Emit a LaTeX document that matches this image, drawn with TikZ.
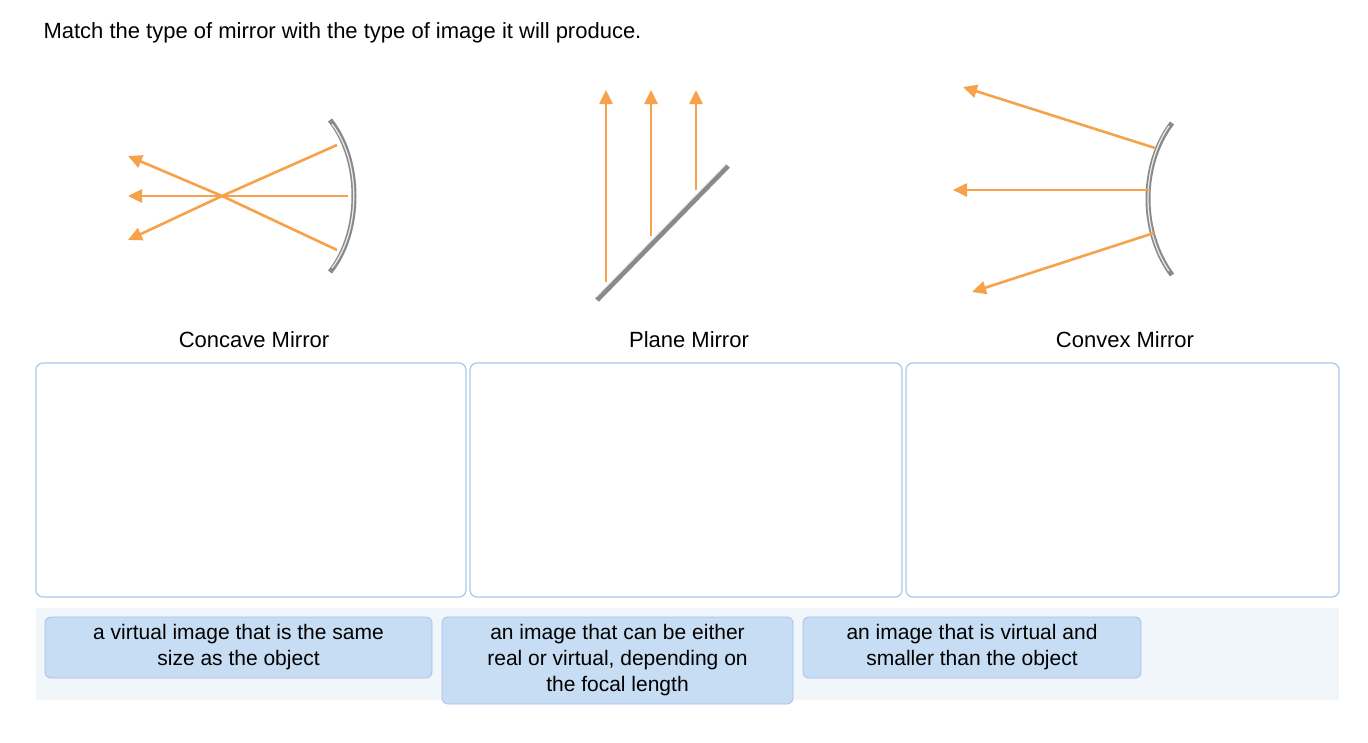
\documentclass[tikz,border=0pt]{standalone}
\usepackage{fontspec}
\setmainfont{Liberation Sans}
\usetikzlibrary{arrows.meta}
\definecolor{ray}{HTML}{F7A24A}
\definecolor{mir}{HTML}{8A8A8A}
\definecolor{boxb}{HTML}{A9C8EA}
\definecolor{chip}{HTML}{C7DDF3}
\definecolor{tray}{HTML}{F1F6FB}
\begin{document}
\begin{tikzpicture}[x=1pt,y=-1pt,
  rayl/.style={draw=ray,line width=2.6pt,-{Triangle[length=14pt,width=13pt]}},
  rayn/.style={draw=ray,line width=2.6pt},
  mirror/.style={draw=mir,line width=5pt},
  mirhl/.style={draw=white!85!gray,line width=1.2pt},
  lab/.style={font=\fontsize{22}{26}\selectfont},
  drop/.style={draw=boxb,line width=1.2pt,rounded corners=7pt,fill=white},
  chipbox/.style={fill=chip,draw=chip!85!blue,line width=0.8pt,rounded corners=6pt},
  chiptext/.style={font=\fontsize{21}{26}\selectfont,align=center}]
\useasboundingbox (0,0) rectangle (1368,742);
\node[lab,anchor=west] (title) at (40,33) {Match the type of mirror with the type of image it will produce.};
% concave
\draw[mirror] (330,120) .. controls (362,160) and (362,232) .. (330,272);
\draw[mirhl] (332,124) .. controls (361,162) and (361,230) .. (332,268);
\coordinate (f) at (222,196);
\coordinate (c1) at (337,145); \coordinate (c2) at (337,250); \coordinate (c3) at (348,196);
\coordinate (a1) at (128,240); \coordinate (a2) at (128,196); \coordinate (a3) at (128,156);
\draw[rayn] (c1) -- (f); \draw[rayl] (f) -- (a1);
\draw[rayn] (c2) -- (f); \draw[rayl] (f) -- (a3);
\draw[rayl] (c3) -- (a2);
% plane
\draw[mirror] (597,300) -- (728,166);
\draw[mirhl] (596,297) -- (726,164);
\coordinate (p1) at (606,282); \coordinate (q1) at (606,90);
\coordinate (p2) at (651,236); \coordinate (q2) at (651,90);
\coordinate (p3) at (696,190); \coordinate (q3) at (696,90);
\draw[rayl] (p1) -- (q1); \draw[rayl] (p2) -- (q2); \draw[rayl] (p3) -- (q3);
% convex
\draw[mirror] (1172,123) .. controls (1140,165) and (1140,232) .. (1172,275);
\draw[mirhl] (1169,126) .. controls (1141,166) and (1141,231) .. (1169,271);
\coordinate (v1) at (1155,148); \coordinate (w1) at (963,87);
\coordinate (v2) at (1150,190); \coordinate (w2) at (953,190);
\coordinate (v3) at (1154,233); \coordinate (w3) at (972,292);
\draw[rayl] (v1) -- (w1); \draw[rayl] (v2) -- (w2); \draw[rayl] (v3) -- (w3);
% labels
\node[lab] (l1) at (254,340) {Concave Mirror};
\node[lab] (l2) at (689,340) {Plane Mirror};
\node[lab] (l3) at (1125,340) {Convex Mirror};
% drop boxes
\draw[drop] (36,363) rectangle (466,597);
\draw[drop] (470,363) rectangle (902,597);
\draw[drop] (906,363) rectangle (1339,597);
% tray
\fill[tray] (36,608) rectangle (1339,700);
\draw[chipbox] (45,617) rectangle (432,678);
\node[chiptext] (t1) at (238.5,647) {a virtual image that is the same\\size as the object};
\draw[chipbox] (442,617) rectangle (793,704);
\node[chiptext] (t2) at (617.5,660) {an image that can be either\\real or virtual, depending on\\the focal length};
\draw[chipbox] (803,617) rectangle (1141,678);
\node[chiptext] (t3) at (972,647) {an image that is virtual and\\smaller than the object};
\end{tikzpicture}
\end{document}
